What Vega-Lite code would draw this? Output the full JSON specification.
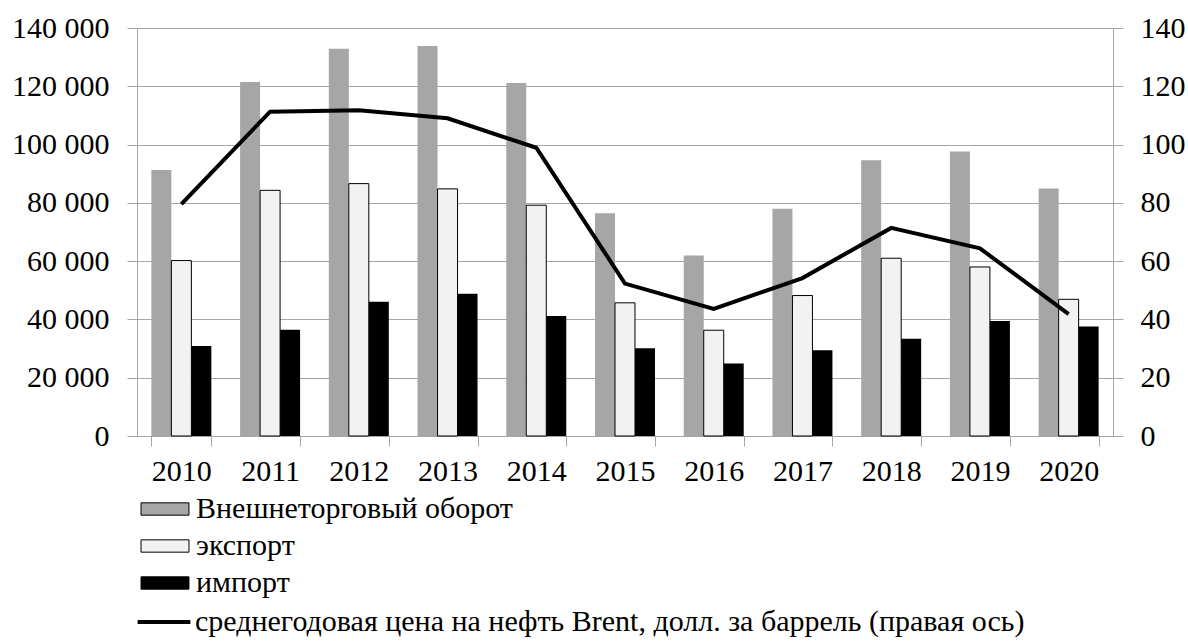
{
  "$schema": "https://vega.github.io/schema/vega-lite/v6.json",
  "width": 976,
  "height": 408,
  "autosize": "none",
  "padding": {"left": 137, "top": 28, "right": 75, "bottom": 206},
  "config": {
    "view": {"stroke": null},
    "font": "Liberation Serif",
    "axis": {"labelFont": "Liberation Serif", "labelColor": "#000", "title": null}
  },
  "datasets": {
    "trade": [
      {"year": "2010", "series": "Внешнеторговый оборот", "value": 91300},
      {"year": "2010", "series": "экспорт", "value": 60200},
      {"year": "2010", "series": "импорт", "value": 30900},
      {"year": "2011", "series": "Внешнеторговый оборот", "value": 121500},
      {"year": "2011", "series": "экспорт", "value": 84300},
      {"year": "2011", "series": "импорт", "value": 36500},
      {"year": "2012", "series": "Внешнеторговый оборот", "value": 132900},
      {"year": "2012", "series": "экспорт", "value": 86600},
      {"year": "2012", "series": "импорт", "value": 46100},
      {"year": "2013", "series": "Внешнеторговый оборот", "value": 133800},
      {"year": "2013", "series": "экспорт", "value": 84800},
      {"year": "2013", "series": "импорт", "value": 48800},
      {"year": "2014", "series": "Внешнеторговый оборот", "value": 121100},
      {"year": "2014", "series": "экспорт", "value": 79200},
      {"year": "2014", "series": "импорт", "value": 41200},
      {"year": "2015", "series": "Внешнеторговый оборот", "value": 76400},
      {"year": "2015", "series": "экспорт", "value": 45700},
      {"year": "2015", "series": "импорт", "value": 30100},
      {"year": "2016", "series": "Внешнеторговый оборот", "value": 61900},
      {"year": "2016", "series": "экспорт", "value": 36300},
      {"year": "2016", "series": "импорт", "value": 24900},
      {"year": "2017", "series": "Внешнеторговый оборот", "value": 78000},
      {"year": "2017", "series": "экспорт", "value": 48200},
      {"year": "2017", "series": "импорт", "value": 29400},
      {"year": "2018", "series": "Внешнеторговый оборот", "value": 94600},
      {"year": "2018", "series": "экспорт", "value": 61000},
      {"year": "2018", "series": "импорт", "value": 33400},
      {"year": "2019", "series": "Внешнеторговый оборот", "value": 97600},
      {"year": "2019", "series": "экспорт", "value": 58000},
      {"year": "2019", "series": "импорт", "value": 39500},
      {"year": "2020", "series": "Внешнеторговый оборот", "value": 84900},
      {"year": "2020", "series": "экспорт", "value": 46900},
      {"year": "2020", "series": "импорт", "value": 37600}
    ],
    "brent": [
      {"year": "2010", "price": 79.6, "series": "среднегодовая цена на нефть Brent, долл. за баррель (правая ось)"},
      {"year": "2011", "price": 111.3, "series": "среднегодовая цена на нефть Brent, долл. за баррель (правая ось)"},
      {"year": "2012", "price": 111.8, "series": "среднегодовая цена на нефть Brent, долл. за баррель (правая ось)"},
      {"year": "2013", "price": 109.0, "series": "среднегодовая цена на нефть Brent, долл. за баррель (правая ось)"},
      {"year": "2014", "price": 98.9, "series": "среднегодовая цена на нефть Brent, долл. за баррель (правая ось)"},
      {"year": "2015", "price": 52.3, "series": "среднегодовая цена на нефть Brent, долл. за баррель (правая ось)"},
      {"year": "2016", "price": 43.6, "series": "среднегодовая цена на нефть Brent, долл. за баррель (правая ось)"},
      {"year": "2017", "price": 54.2, "series": "среднегодовая цена на нефть Brent, долл. за баррель (правая ось)"},
      {"year": "2018", "price": 71.4, "series": "среднегодовая цена на нефть Brent, долл. за баррель (правая ось)"},
      {"year": "2019", "price": 64.4, "series": "среднегодовая цена на нефть Brent, долл. за баррель (правая ось)"},
      {"year": "2020", "price": 41.8, "series": "среднегодовая цена на нефть Brent, долл. за баррель (правая ось)"}
    ]
  },
  "layer": [
    {
      "data": {"name": "trade"},
      "mark": {"type": "bar", "stroke": "#000"},
      "encoding": {
        "x": {
          "field": "year", "type": "nominal",
          "scale": {"paddingInner": 0.324, "paddingOuter": 0.162},
          "axis": {
            "labelFontSize": 30, "labelAngle": 0, "tickBand": "extent", "tickSize": 10,
            "tickColor": "#a6a6a6", "domainColor": "#a6a6a6", "labelPadding": 10
          }
        },
        "xOffset": {
          "field": "series", "type": "nominal",
          "sort": ["Внешнеторговый оборот", "экспорт", "импорт"],
          "scale": {"paddingInner": 0, "paddingOuter": 0}
        },
        "y": {
          "field": "value", "type": "quantitative",
          "scale": {"domain": [0, 140000]},
          "axis": {
            "values": [0, 20000, 40000, 60000, 80000, 100000, 120000, 140000],
            "labelExpr": "replace(format(datum.value, ',d'), ',', ' ')",
            "labelFontSize": 30, "tickSize": 10, "labelPadding": 18,
            "grid": true, "gridColor": "#a6a6a6", "tickColor": "#a6a6a6", "domainColor": "#a6a6a6"
          }
        },
        "color": {
          "field": "series", "type": "nominal",
          "scale": {
            "domain": ["Внешнеторговый оборот", "экспорт", "импорт"],
            "range": ["#a6a6a6", "#f2f2f2", "#000000"]
          },
          "legend": {
            "orient": "none", "legendX": 13, "legendY": 466, "direction": "vertical",
            "title": null, "symbolSize": 484,
            "symbolType": "M-2.18,-0.56H2.18V0.56H-2.18Z",
            "symbolStrokeColor": "#000", "symbolStrokeWidth": 1, "symbolOpacity": 1,
            "labelFontSize": 30, "labelFont": "Liberation Serif", "labelColor": "#000",
            "labelOffset": 16, "rowPadding": 7, "padding": 0, "labelLimit": 0, "gridAlign": "all"
          }
        },
        "strokeWidth": {"condition": {"test": "datum.series === 'экспорт'", "value": 1}, "value": 0}
      }
    },
    {
      "data": {"name": "brent"},
      "mark": {"type": "line", "strokeWidth": 4},
      "encoding": {
        "x": {"field": "year", "type": "nominal"},
        "y": {
          "field": "price", "type": "quantitative",
          "scale": {"domain": [0, 140]},
          "axis": {
            "orient": "right", "values": [0, 20, 40, 60, 80, 100, 120, 140],
            "labelFontSize": 30, "tickSize": 10, "labelPadding": 17, "grid": false,
            "tickColor": "#a6a6a6", "domainColor": "#a6a6a6"
          }
        },
        "stroke": {
          "field": "series", "type": "nominal",
          "scale": {"range": ["#000000"]},
          "legend": {
            "orient": "none", "legendX": 12, "legendY": 579, "direction": "vertical",
            "title": null, "symbolSize": 484,
            "symbolType": "M-2.4,0H2.4",
            "symbolStrokeColor": "#000", "symbolStrokeWidth": 4, "symbolOpacity": 1,
            "labelFontSize": 30, "labelFont": "Liberation Serif", "labelColor": "#000",
            "labelOffset": 16, "padding": 0, "labelLimit": 0
          }
        }
      }
    }
  ],
  "resolve": {"scale": {"y": "independent"}}
}
